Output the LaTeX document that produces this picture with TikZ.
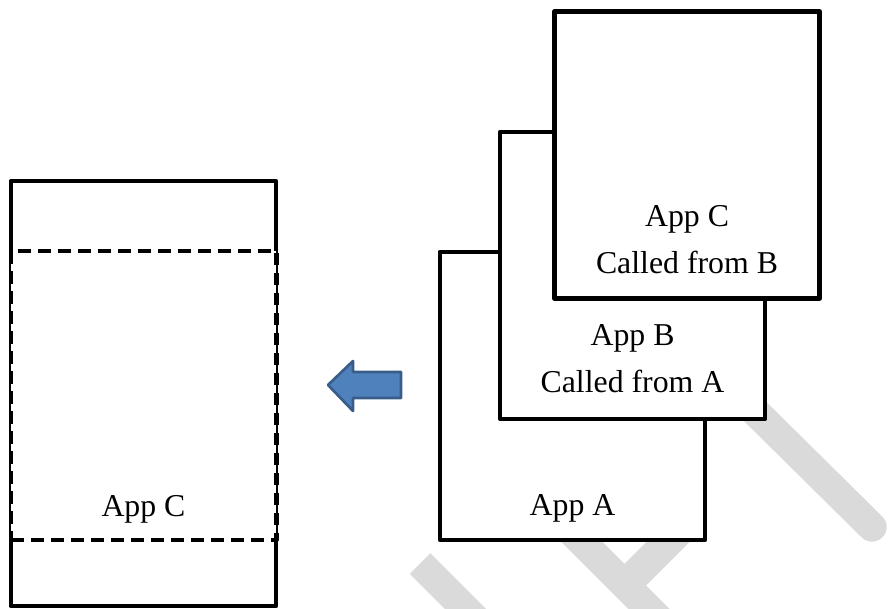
\documentclass[tikz,border=0pt]{standalone}
\usepackage{fontspec}
\setmainfont{Liberation Serif}
\definecolor{wm}{RGB}{218,218,218}
\definecolor{arrfill}{RGB}{79,129,189}
\definecolor{arrline}{RGB}{56,93,138}
\begin{document}
\begin{tikzpicture}[x=0.75pt,y=-0.75pt,
  box/.style={draw, line width=3.3pt, fill=white, inner sep=0pt,
    minimum width=199pt, minimum height=215pt, line join=round},
  dashbox/.style={box, line width=3.5pt, dash pattern=on 9.5pt off 5.5pt},
  lbl/.style={font=\fontsize{23.85}{28}\selectfont, anchor=base, inner sep=0pt},
  wmstroke/.style={draw=wm, line width=22pt}]
\useasboundingbox (0,0) rectangle (889,609);
% faint watermark strokes behind the boxes
\begin{scope}
  \clip (0,0) rectangle (889,609);
  \draw[wmstroke, line cap=round] (700,357) -- (872,527);
  \draw[wmstroke] (540,500) -- (720,680);
  \draw[wmstroke, line width=23pt] (625,585) -- (680,530);
  \draw[wmstroke] (420,563.5) -- (500,643.5);
\end{scope}
% stacked application windows
\node[box, minimum height=216pt] (appA) at (572.5,396) {};
\node[box] (appB) at (632.5,275.5) {};
\node[box] (appC) at (687,155) {};
\node[lbl] (tA) at (572.5,515) {App A};
\node[lbl] (tB1) at (632.5,346) {App B};
\node[lbl] (tB2) at (632.5,393) {Called from A};
\node[lbl] (tC1) at (687,227) {App C};
\node[lbl] (tC2) at (687,274) {Called from B};
% left screen
\node[box, minimum height=318.75pt] (screen) at (143.5,393.5) {};
\node[dashbox, minimum height=216.75pt] (region) at (143.5,395.5) {};
\node[lbl] (tL) at (143.5,516) {App C};
% block arrow
\filldraw[fill=arrfill, draw=arrline, line width=2pt, line join=round]
  (328,385) -- (353,361) -- (353,372) -- (401,372) -- (401,398)
  -- (353,398) -- (353,411) -- cycle;
\end{tikzpicture}
\end{document}
